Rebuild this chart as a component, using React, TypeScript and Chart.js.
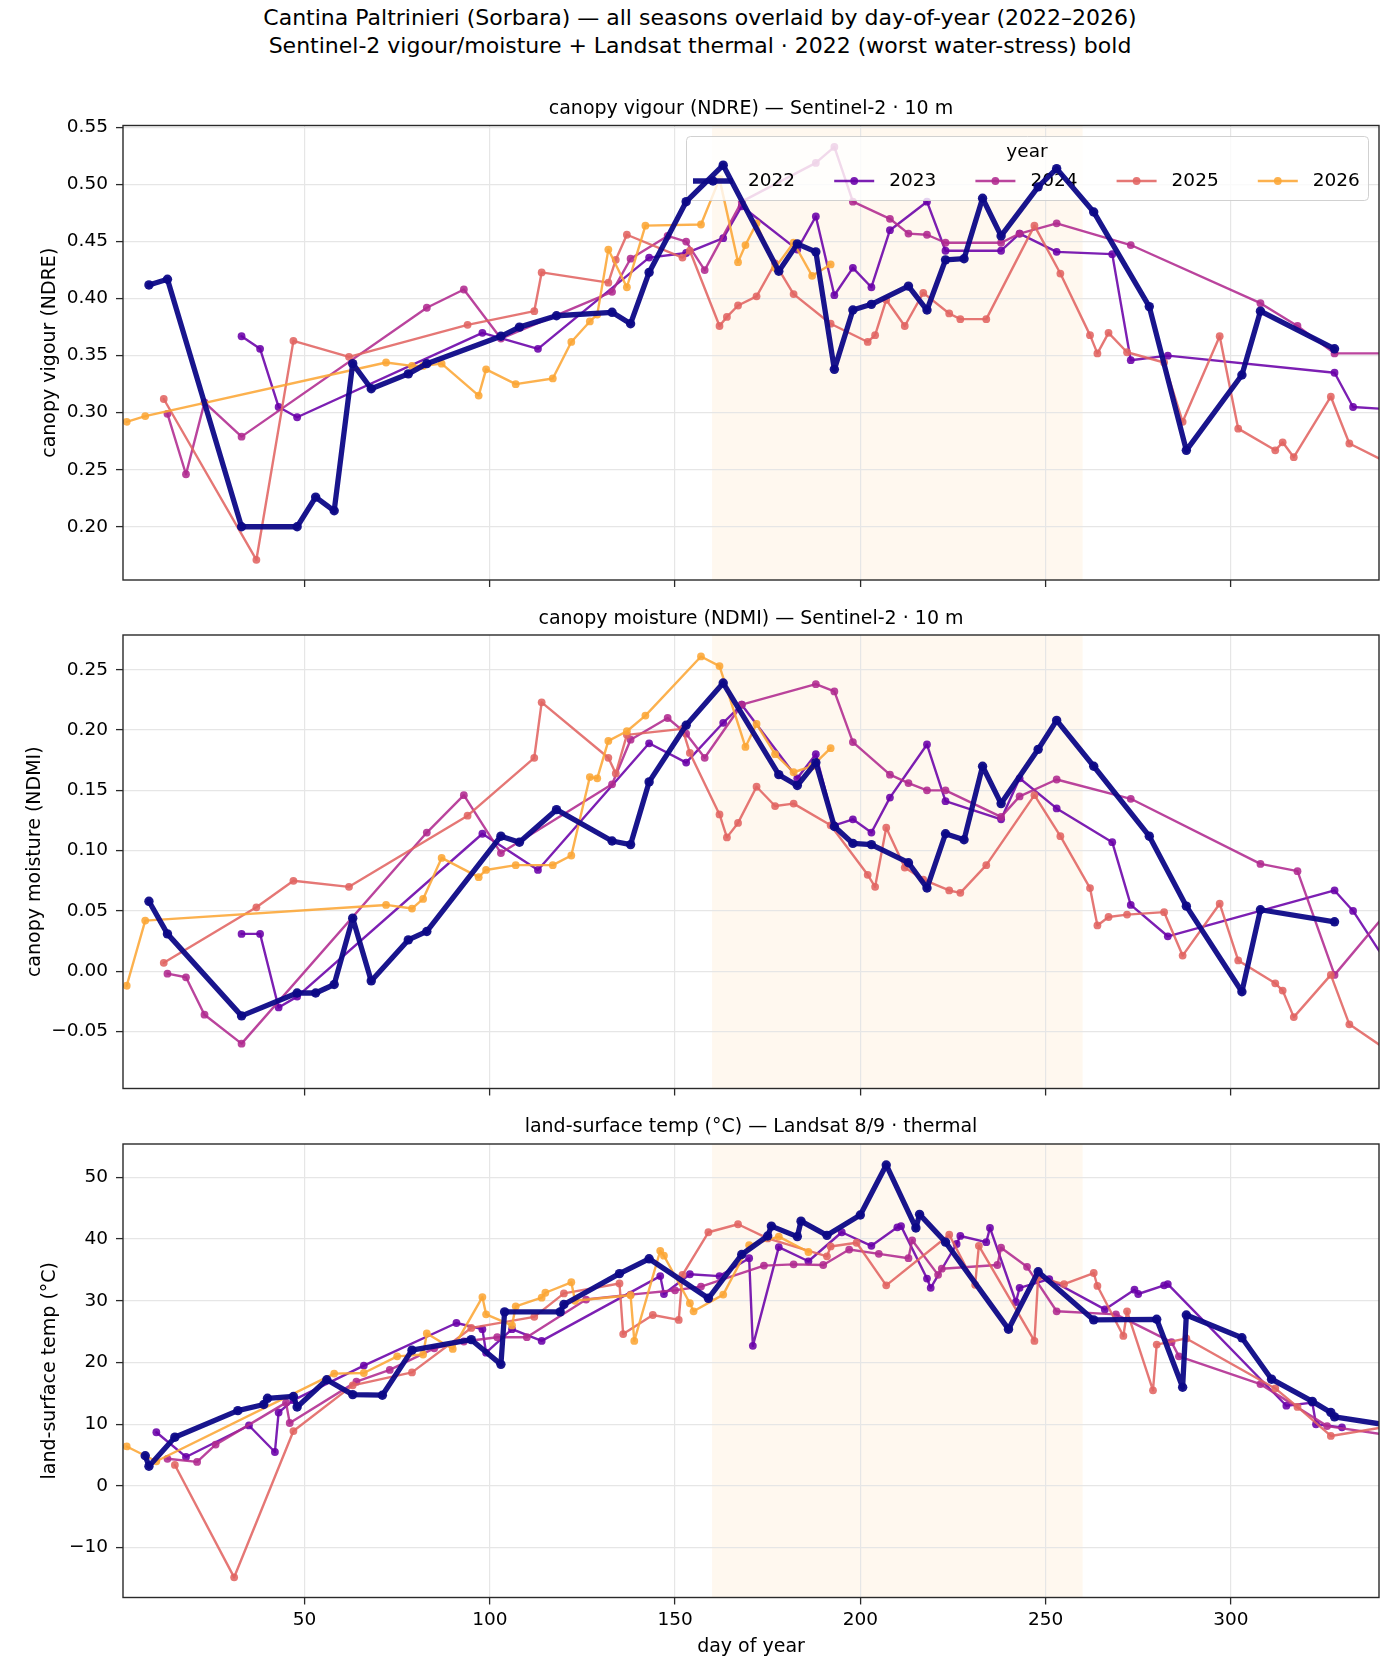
import React, { useEffect, useRef } from 'react';
import { Chart, registerables } from 'chart.js';

Chart.register(...registerables);

const FONT = "'DejaVu Sans', 'Liberation Sans', sans-serif";

// ---------- categories / styling keys ----------
const YEARS = ['2022', '2023', '2024', '2025', '2026'];
const YEAR_COLORS = ['#0d0887', '#6a00a8', '#b12a90', '#e16462', '#fca636'];

// ---------- tick labels ----------
const X_TICKS = [50, 100, 150, 200, 250, 300];
const NDRE_TICKS = [0.2, 0.25, 0.3, 0.35, 0.4, 0.45, 0.5, 0.55];
const NDMI_TICKS = [-0.05, 0, 0.05, 0.1, 0.15, 0.2, 0.25];
const LST_TICKS = [-10, 0, 10, 20, 30, 40, 50];
const STRESS_WINDOW = [160, 260];

// ---------- Sentinel-2 (NDRE / NDMI) ----------
const S2_DAYS_2022 = [8, 13, 33, 48, 53, 58, 63, 68, 78, 83, 103, 108, 118, 133, 138, 143, 153, 163, 178, 183, 188, 193, 198, 203, 213, 218, 223, 228, 233, 238, 248, 253, 263, 278, 288, 303, 308, 328];
const NDRE_2022 = [0.412, 0.417, 0.2, 0.2, 0.226, 0.214, 0.343, 0.321, 0.334, 0.343, 0.367, 0.375, 0.385, 0.388, 0.378, 0.423, 0.485, 0.517, 0.424, 0.448, 0.441, 0.338, 0.39, 0.395, 0.411, 0.39, 0.434, 0.435, 0.488, 0.455, 0.498, 0.514, 0.476, 0.393, 0.267, 0.333, 0.389, 0.356];
const NDMI_2022 = [0.058, 0.031, -0.037, -0.018, -0.018, -0.011, 0.044, -0.008, 0.026, 0.033, 0.112, 0.107, 0.134, 0.108, 0.105, 0.157, 0.204, 0.239, 0.163, 0.154, 0.173, 0.12, 0.106, 0.105, 0.09, 0.069, 0.114, 0.109, 0.17, 0.139, 0.184, 0.208, 0.17, 0.112, 0.054, -0.017, 0.051, 0.041];

const S2_DAYS_2023 = [33, 38, 43, 48, 98, 113, 143, 153, 163, 168, 183, 188, 193, 198, 203, 208, 218, 223, 238, 243, 253, 268, 273, 283, 328, 333, 343];
const NDRE_2023 = [0.367, 0.356, 0.305, 0.296, 0.37, 0.356, 0.436, 0.44, 0.453, 0.481, 0.443, 0.472, 0.403, 0.427, 0.41, 0.46, 0.485, 0.442, 0.442, 0.457, 0.441, 0.439, 0.346, 0.35, 0.335, 0.305, 0.303];
const NDMI_2023 = [0.031, 0.031, -0.03, -0.021, 0.114, 0.084, 0.189, 0.173, 0.206, 0.221, 0.16, 0.18, 0.121, 0.126, 0.115, 0.144, 0.188, 0.141, 0.126, 0.16, 0.135, 0.107, 0.055, 0.029, 0.067, 0.05, 0.003];

const S2_DAYS_2024 = [13, 18, 23, 33, 83, 93, 103, 133, 138, 148, 153, 158, 168, 188, 193, 198, 208, 213, 218, 223, 238, 243, 253, 273, 308, 318, 328, 343];
const NDRE_2024 = [0.299, 0.246, 0.309, 0.279, 0.392, 0.408, 0.365, 0.406, 0.435, 0.455, 0.45, 0.425, 0.485, 0.519, 0.533, 0.485, 0.47, 0.457, 0.456, 0.449, 0.449, 0.457, 0.466, 0.447, 0.396, 0.376, 0.352, 0.352];
const NDMI_2024 = [-0.002, -0.005, -0.036, -0.06, 0.115, 0.146, 0.098, 0.155, 0.192, 0.21, 0.197, 0.177, 0.221, 0.238, 0.232, 0.19, 0.163, 0.156, 0.15, 0.15, 0.128, 0.145, 0.159, 0.143, 0.089, 0.083, -0.003, 0.052];

const S2_DAYS_2025 = [12, 37, 47, 62, 94, 112, 114, 132, 134, 137, 152, 154, 162, 164, 167, 172, 177, 182, 192, 202, 204, 207, 212, 217, 224, 227, 234, 247, 254, 262, 264, 267, 272, 282, 287, 297, 302, 312, 314, 317, 327, 332, 343];
const NDRE_2025 = [0.312, 0.171, 0.363, 0.349, 0.377, 0.389, 0.423, 0.414, 0.434, 0.456, 0.436, 0.442, 0.376, 0.384, 0.394, 0.402, 0.431, 0.404, 0.378, 0.362, 0.368, 0.399, 0.376, 0.405, 0.387, 0.382, 0.382, 0.464, 0.422, 0.368, 0.352, 0.37, 0.353, 0.344, 0.292, 0.367, 0.286, 0.267, 0.274, 0.261, 0.314, 0.273, 0.255];
const NDMI_2025 = [0.007, 0.053, 0.075, 0.07, 0.129, 0.177, 0.223, 0.177, 0.164, 0.196, 0.201, 0.181, 0.13, 0.111, 0.123, 0.153, 0.137, 0.139, 0.121, 0.08, 0.07, 0.119, 0.086, 0.076, 0.067, 0.065, 0.088, 0.146, 0.112, 0.069, 0.038, 0.045, 0.047, 0.049, 0.013, 0.056, 0.009, -0.01, -0.016, -0.038, -0.003, -0.044, -0.067];

const S2_DAYS_2026 = [2, 7, 72, 79, 82, 87, 97, 99, 107, 117, 122, 127, 129, 132, 137, 142, 157, 162, 167, 169, 172, 177, 182, 187, 192];
const NDRE_2026 = [0.292, 0.297, 0.344, 0.341, 0.341, 0.343, 0.315, 0.338, 0.325, 0.33, 0.362, 0.38, 0.386, 0.443, 0.41, 0.464, 0.465, 0.505, 0.432, 0.447, 0.466, 0.427, 0.449, 0.42, 0.43];
const NDMI_2026 = [-0.012, 0.042, 0.055, 0.052, 0.06, 0.094, 0.078, 0.084, 0.088, 0.088, 0.096, 0.161, 0.16, 0.191, 0.199, 0.212, 0.261, 0.253, null, 0.186, 0.205, 0.18, 0.165, 0.17, 0.185];

// ---------- Landsat land-surface temperature ----------
const LST_DAYS_2022 = [7, 8, 15, 32, 39, 40, 47, 48, 56, 63, 71, 79, 95, 103, 104, 119, 120, 135, 143, 159, 168, 175, 176, 183, 184, 191, 200, 207, 215, 216, 223, 240, 248, 263, 280, 287, 288, 303, 311, 322, 327, 328, 344];
const LST_2022 = [4.9, 3.2, 7.9, 12.2, 13.2, 14.2, 14.5, 12.8, 17.2, 14.8, 14.7, 22.0, 23.7, 19.7, 28.2, 28.2, 29.4, 34.4, 36.8, 30.4, 37.5, 40.5, 42.1, 40.4, 42.9, 40.6, 43.9, 52.0, 41.8, 44.0, 39.5, 25.4, 34.7, 26.9, 27.0, 16.0, 27.7, 24.0, 17.3, 13.7, 11.9, 11.2, 9.7];

const LST_DAYS_2023 = [10, 18, 35, 42, 43, 47, 66, 91, 98, 99, 106, 114, 146, 147, 154, 162, 170, 171, 178, 186, 195, 203, 210, 211, 218, 219, 226, 227, 234, 235, 242, 243, 251, 266, 274, 275, 282, 283, 315, 322, 323, 330];
const LST_2023 = [8.7, 4.7, 9.8, 5.5, 11.9, 13.9, 19.5, 26.4, 25.4, 21.6, 25.4, 23.5, 34.0, 31.1, 34.3, 34.0, 36.9, 22.7, 38.7, 36.4, 41.1, 38.9, 41.9, 42.1, 33.6, 32.1, 39.2, 40.5, 39.5, 41.8, 29.8, 32.1, 33.5, 28.6, 31.8, 31.1, 32.5, 32.7, 13.0, 13.5, 10.0, 9.5];

const LST_DAYS_2024 = [13, 21, 26, 45, 46, 64, 73, 85, 93, 102, 110, 126, 138, 150, 157, 174, 182, 190, 197, 205, 213, 214, 221, 222, 237, 238, 245, 253, 269, 284, 286, 308, 326, 344];
const LST_2024 = [4.4, 3.9, 6.7, 13.5, 10.2, 16.9, 18.8, 22.3, 23.4, 24.1, 24.1, 30.2, 31.0, 31.7, 32.3, 35.7, 35.9, 35.8, 38.3, 37.6, 36.9, 39.8, 34.2, 35.2, 35.8, 38.6, 35.5, 28.3, 27.8, 23.3, 21.0, 16.5, 9.7, 8.1];

const LST_DAYS_2025 = [15, 31, 47, 63, 79, 95, 112, 120, 135, 136, 144, 151, 152, 159, 167, 175, 191, 192, 199, 207, 224, 231, 232, 247, 248, 255, 263, 264, 271, 272, 279, 280, 288, 312, 318, 327, 344];
const LST_2025 = [3.4, -14.8, 8.9, 16.3, 18.4, 25.6, 27.4, 31.2, 32.8, 24.6, 27.7, 26.9, 34.2, 41.1, 42.4, 40.1, 37.2, 38.8, 39.4, 32.5, 40.7, 32.6, 38.9, 23.5, 33.8, 32.7, 34.5, 32.4, 24.3, 28.3, 15.5, 22.9, 23.9, 15.8, 12.8, 8.1, 9.8];

const LST_DAYS_2026 = [2, 10, 58, 66, 75, 82, 83, 90, 98, 99, 106, 107, 114, 115, 122, 123, 138, 139, 146, 147, 154, 155, 163, 170, 178, 186];
const LST_2026 = [6.4, 4.0, 18.2, 18.3, 21.0, 21.3, 24.7, 22.2, 30.6, 27.8, 26.0, 29.1, 30.5, 31.3, 33.0, 30.0, 30.9, 23.5, 38.1, 37.3, 29.6, 28.3, 31.0, 39.0, 40.4, 37.9];

// ---------- helpers ----------
type Pt = { x: number; y: number | null };
const zip = (days: number[], vals: (number | null)[]): Pt[] => days.map((d, i) => ({ x: d, y: vals[i] }));

const S2_DAYS = [S2_DAYS_2022, S2_DAYS_2023, S2_DAYS_2024, S2_DAYS_2025, S2_DAYS_2026];
const NDRE_SERIES = [NDRE_2022, NDRE_2023, NDRE_2024, NDRE_2025, NDRE_2026].map((v, i) => zip(S2_DAYS[i], v));
const NDMI_SERIES = [NDMI_2022, NDMI_2023, NDMI_2024, NDMI_2025, NDMI_2026].map((v, i) => zip(S2_DAYS[i], v));
const LST_SERIES = [
  zip(LST_DAYS_2022, LST_2022),
  zip(LST_DAYS_2023, LST_2023),
  zip(LST_DAYS_2024, LST_2024),
  zip(LST_DAYS_2025, LST_2025),
  zip(LST_DAYS_2026, LST_2026),
];

function hexToRgba(hex: string, a: number) {
  const n = parseInt(hex.slice(1), 16);
  return `rgba(${(n >> 16) & 255},${(n >> 8) & 255},${n & 255},${a})`;
}
const lineColor = (i: number) => (i === 0 ? hexToRgba(YEAR_COLORS[0], 0.95) : hexToRgba(YEAR_COLORS[i], 0.88));
const DRAW_ORDER = [0, 4, 3, 2, 1];
const LW_BOLD = 5.3;
const LW_THIN = 2.4;
const R_BOLD = 4.7;
const R_THIN = 3.9;

const minus = (s: string) => s.replace('-', '\u2212');

type PanelCfg = {
  key: string;
  top: number;
  height: number;
  padTop: number;
  xAxisH: number;
  yMin: number;
  yMax: number;
  yTicks: number[];
  fmt: (v: number) => string;
  ylabel: string;
  ylabelPad: number;
  title: string;
  titleY: number;
  showX: boolean;
  legend: boolean;
  series: Pt[][];
};

const PANELS: PanelCfg[] = [
  {
    key: 'ndre', top: 105, height: 495, padTop: 20.5, xAxisH: 20,
    yMin: 0.1533, yMax: 0.5518, yTicks: NDRE_TICKS, fmt: (v) => v.toFixed(2),
    ylabel: 'canopy vigour (NDRE)', ylabelPad: 38.6,
    title: 'canopy vigour (NDRE) \u2014 Sentinel-2 \u00b7 10 m', titleY: 107,
    showX: false, legend: true, series: NDRE_SERIES,
  },
  {
    key: 'ndmi', top: 615, height: 494, padTop: 20, xAxisH: 20.5,
    yMin: -0.0972, yMax: 0.2788, yTicks: NDMI_TICKS, fmt: (v) => minus(v.toFixed(2)),
    ylabel: 'canopy moisture (NDMI)', ylabelPad: 23.6,
    title: 'canopy moisture (NDMI) \u2014 Sentinel-2 \u00b7 10 m', titleY: 617,
    showX: false, legend: false, series: NDMI_SERIES,
  },
  {
    key: 'lst', top: 1124, height: 556, padTop: 20, xAxisH: 82.5,
    yMin: -18.07, yMax: 55.4, yTicks: LST_TICKS, fmt: (v) => minus(String(Math.round(v))),
    ylabel: 'land-surface temp (\u00b0C)', ylabelPad: 38.6,
    title: 'land-surface temp (\u00b0C) \u2014 Landsat 8/9 \u00b7 thermal', titleY: 1125,
    showX: true, legend: false, series: LST_SERIES,
  },
];

const shadePlugin = {
  id: 'stressShade',
  beforeDraw(chart: any) {
    const { ctx, chartArea: a, scales } = chart;
    const x1 = scales.x.getPixelForValue(STRESS_WINDOW[0]);
    const x2 = scales.x.getPixelForValue(STRESS_WINDOW[1]);
    ctx.save();
    ctx.fillStyle = 'rgba(250,165,45,0.075)';
    ctx.fillRect(x1, a.top, x2 - x1, a.bottom - a.top);
    ctx.restore();
  },
};

const framePlugin = {
  id: 'axesFrame',
  afterDraw(chart: any) {
    const { ctx, chartArea: a } = chart;
    ctx.save();
    ctx.strokeStyle = '#2a2a2a';
    ctx.lineWidth = 1.4;
    ctx.strokeRect(a.left, a.top, a.right - a.left, a.bottom - a.top);
    ctx.restore();
  },
};

function makeLegendPlugin(canvasTop: number) {
  return {
    id: 'yearLegend',
    beforeDatasetDraw(chart: any, args: any) {
      if (args.index !== 0) return;
      const ctx = chart.ctx as CanvasRenderingContext2D;
      const bx = 686, by = 136 - canvasTop, bw = 682, bh = 64;
      ctx.save();
      ctx.beginPath();
      (ctx as any).roundRect(bx + 0.5, by + 0.5, bw, bh, 4);
      ctx.fillStyle = 'rgba(255,255,255,0.8)';
      ctx.fill();
      ctx.strokeStyle = 'rgba(204,204,204,0.9)';
      ctx.lineWidth = 1;
      ctx.stroke();
      ctx.fillStyle = '#000';
      ctx.font = `18.5px ${FONT}`;
      ctx.textAlign = 'center';
      ctx.textBaseline = 'middle';
      ctx.fillText('year', bx + bw / 2, 152.5 - canvasTop);
      const ey = 181 - canvasTop;
      YEARS.forEach((yr, i) => {
        const x0 = 693 + i * 141.2;
        const bold = i === 0;
        ctx.strokeStyle = lineColor(i);
        ctx.fillStyle = lineColor(i);
        ctx.lineWidth = bold ? LW_BOLD : LW_THIN;
        ctx.lineCap = 'butt';
        ctx.beginPath();
        ctx.moveTo(x0, ey);
        ctx.lineTo(x0 + 40, ey);
        ctx.stroke();
        ctx.beginPath();
        ctx.arc(x0 + 20, ey, bold ? R_BOLD : R_THIN, 0, Math.PI * 2);
        ctx.fill();
        ctx.fillStyle = '#000';
        ctx.textAlign = 'left';
        ctx.fillText(yr, x0 + 55, ey);
      });
      ctx.restore();
    },
  };
}

function Panel({ cfg }: { cfg: PanelCfg }) {
  const ref = useRef<HTMLCanvasElement>(null);
  useEffect(() => {
    if (!ref.current) return;
    const datasets = cfg.series.map((data, i) => ({
      label: YEARS[i],
      data,
      borderColor: lineColor(i),
      backgroundColor: lineColor(i),
      pointBackgroundColor: lineColor(i),
      pointBorderColor: lineColor(i),
      pointBorderWidth: 0,
      pointRadius: i === 0 ? R_BOLD : R_THIN,
      pointHoverRadius: i === 0 ? R_BOLD : R_THIN,
      borderWidth: i === 0 ? LW_BOLD : LW_THIN,
      borderJoinStyle: 'round',
      borderCapStyle: 'round',
      tension: 0,
      spanGaps: true,
      fill: false,
      order: DRAW_ORDER[i],
    }));
    const plugins: any[] = [shadePlugin, framePlugin];
    if (cfg.legend) plugins.push(makeLegendPlugin(cfg.top));
    const chart = new Chart(ref.current, {
      type: 'line',
      data: { datasets } as any,
      plugins,
      options: {
        responsive: false,
        maintainAspectRatio: false,
        animation: false,
        devicePixelRatio: 1,
        events: [],
        layout: { padding: { top: cfg.padTop, right: 21, left: 0, bottom: 0 } },
        plugins: {
          legend: { display: false },
          title: { display: false },
          tooltip: { enabled: false },
        },
        scales: {
          x: {
            type: 'linear',
            min: 1,
            max: 340,
            afterBuildTicks: (s: any) => { s.ticks = X_TICKS.map((v) => ({ value: v })); },
            afterFit: (s: any) => { s.height = cfg.xAxisH; },
            ticks: {
              display: cfg.showX,
              font: { family: FONT, size: 18.5 },
              color: '#000',
              padding: 4.5,
              maxRotation: 0,
              autoSkip: false,
              callback: (v: any) => String(v),
            },
            grid: { color: '#e6e6e6', lineWidth: 1.2, tickColor: '#2a2a2a', tickLength: 7, tickWidth: 1.3, drawTicks: true },
            border: { display: false },
            title: {
              display: cfg.showX,
              text: 'day of year',
              color: '#000',
              font: { family: FONT, size: 19 },
              padding: { top: 0, bottom: 21.6 },
            },
          },
          y: {
            type: 'linear',
            min: cfg.yMin,
            max: cfg.yMax,
            afterBuildTicks: (s: any) => { s.ticks = cfg.yTicks.map((v) => ({ value: v })); },
            afterFit: (s: any) => { s.width = 123; },
            ticks: {
              font: { family: FONT, size: 18.5 },
              color: '#000',
              padding: 8,
              autoSkip: false,
              callback: (v: any) => cfg.fmt(Number(v)),
            },
            grid: { color: '#e6e6e6', lineWidth: 1.2, tickColor: '#2a2a2a', tickLength: 7, tickWidth: 1.3, drawTicks: true },
            border: { display: false },
            title: {
              display: true,
              text: cfg.ylabel,
              color: '#000',
              font: { family: FONT, size: 19 },
              padding: { top: cfg.ylabelPad, bottom: 0 },
            },
          },
        },
      } as any,
    });
    return () => chart.destroy();
  }, [cfg]);
  return (
    <canvas
      ref={ref}
      width={1400}
      height={cfg.height}
      style={{ position: 'absolute', left: 0, top: cfg.top, width: 1400, height: cfg.height }}
    />
  );
}

export default function App() {
  return (
    <div style={{ position: 'absolute', left: 0, top: 0, width: 1400, height: 1680, background: '#fff', fontFamily: FONT, color: '#000' }}>
      <div style={{ position: 'absolute', left: 0, top: 4, width: 1400, textAlign: 'center', fontSize: 22, lineHeight: '28px' }}>
        <div>Cantina Paltrinieri (Sorbara) — all seasons overlaid by day-of-year (2022–2026)</div>
        <div>Sentinel-2 vigour/moisture + Landsat thermal · 2022 (worst water-stress) bold</div>
      </div>
      {PANELS.map((p) => (
        <Panel key={p.key} cfg={p} />
      ))}
      {PANELS.map((p) => (
        <div
          key={p.key + '-t'}
          style={{ position: 'absolute', left: 123, width: 1256, top: p.titleY - 12, height: 24, lineHeight: '24px', textAlign: 'center', fontSize: 19, zIndex: 2 }}
        >
          {p.title}
        </div>
      ))}
    </div>
  );
}
